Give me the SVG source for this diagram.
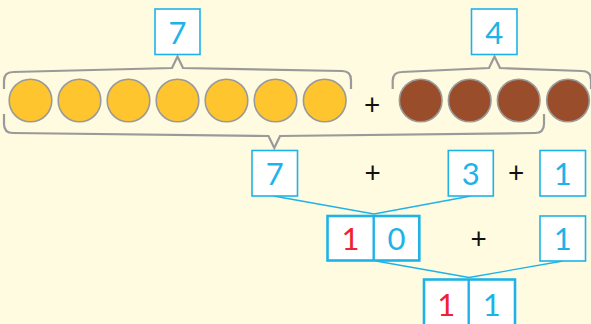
<svg xmlns="http://www.w3.org/2000/svg" width="591" height="324" viewBox="0 0 591 324">
<style>
.bg{fill:#FFFBE0}
.box{fill:#fff;stroke:#1DB3E8;stroke-width:1.6}
.bx{fill:#fff;stroke:#1DB3E8;stroke-width:2.6}
.y{fill:#FFC52F;stroke:#9A9A9A;stroke-width:1.6}
.b{fill:#9A4D2A;stroke:#9A9A9A;stroke-width:1.6}
.br{fill:none;stroke:#9A9A9A;stroke-width:2.2;stroke-linejoin:miter}
.d{font-family:Lato,"Noto Sans",sans-serif;font-weight:400;font-size:31px;text-anchor:middle;fill:#1DB3E8}
.r{fill:#EE2233}
.p{font-family:Lato,"Noto Sans",sans-serif;font-size:28px;text-anchor:middle;fill:#111}
.c{fill:none;stroke:#1DB3E8;stroke-width:1.3}
</style>
<rect class="bg" x="0" y="0" width="591" height="324"/>
<g id="connectors">
<path class="br" d="M4,89 L4,81 Q4,72 13,72 L172,68 L177.5,56.5 L183,68 L342,71 Q351,71 351,80 L351,89"/>
<path class="br" d="M392.7,89 L392.7,81 Q392.7,72 401.7,72 L489,68 L494.5,56.5 L500,68 L582,71 Q591,71 591,80 L591,89"/>
<path class="br" d="M4,114 L4,124 Q4,133 13,133 L268.5,136 L274.3,148 L280,136 L535,133 Q544,133 544,124 L544,114"/>
<path class="c" d="M273.5,196 L374,214 L471,196"/>
<path class="c" d="M376,261 L469,277.5 L563,261"/>
</g>
<g id="n-top7"><rect class="box" x="155" y="9" width="45" height="45.5"/><text class="d" x="177.5" y="44">7</text></g>
<g id="n-top4"><rect class="box" x="471.5" y="9" width="45.5" height="45.5"/><text class="d" x="494.3" y="44">4</text></g>
<g id="n-yellow">
<circle class="y" cx="30.5" cy="100.5" r="21.3"/>
<circle class="y" cx="79.5" cy="100.5" r="21.3"/>
<circle class="y" cx="128.5" cy="100.5" r="21.3"/>
<circle class="y" cx="177.5" cy="100.5" r="21.3"/>
<circle class="y" cx="226.5" cy="100.5" r="21.3"/>
<circle class="y" cx="275.5" cy="100.5" r="21.3"/>
<circle class="y" cx="324.7" cy="100.5" r="21.3"/>
</g>
<g id="n-plus1"><text class="p" x="372" y="115">+</text></g>
<g id="n-brown">
<circle class="b" cx="420.7" cy="100.5" r="21.3"/>
<circle class="b" cx="469.7" cy="100.5" r="21.3"/>
<circle class="b" cx="518.7" cy="100.5" r="21.3"/>
<circle class="b" cx="568" cy="100.5" r="21.3"/>
</g>
<g id="n-r2-7"><rect class="box" x="252" y="150.5" width="45.5" height="45.5"/><text class="d" x="274.7" y="184.5">7</text></g>
<g id="n-r2-plus1"><text class="p" x="372.7" y="183">+</text></g>
<g id="n-r2-3"><rect class="box" x="448.3" y="150.5" width="45" height="45.5"/><text class="d" x="470.8" y="184.5">3</text></g>
<g id="n-r2-plus2"><text class="p" x="516" y="183">+</text></g>
<g id="n-r2-1"><rect class="box" x="540" y="150.5" width="45.5" height="45.5"/><text class="d" x="562.7" y="184.5">1</text></g>
<g id="n-r3-10"><rect class="bx" x="327.5" y="216" width="91.8" height="44.5"/><line x1="373.7" y1="216" x2="373.7" y2="260.5" stroke="#1DB3E8" stroke-width="2.4"/><text class="d r" x="350.5" y="250">1</text><text class="d" x="396.5" y="250">0</text></g>
<g id="n-r3-plus"><text class="p" x="478.7" y="248.5">+</text></g>
<g id="n-r3-1"><rect class="box" x="540" y="216" width="45.5" height="45"/><text class="d" x="562.7" y="250">1</text></g>
<g id="n-r4-11"><rect class="bx" x="424" y="279.5" width="91" height="50"/><line x1="468.7" y1="279.5" x2="468.7" y2="326" stroke="#1DB3E8" stroke-width="2.4"/><text class="d r" x="446.3" y="316">1</text><text class="d" x="491.8" y="316">1</text></g>
</svg>
